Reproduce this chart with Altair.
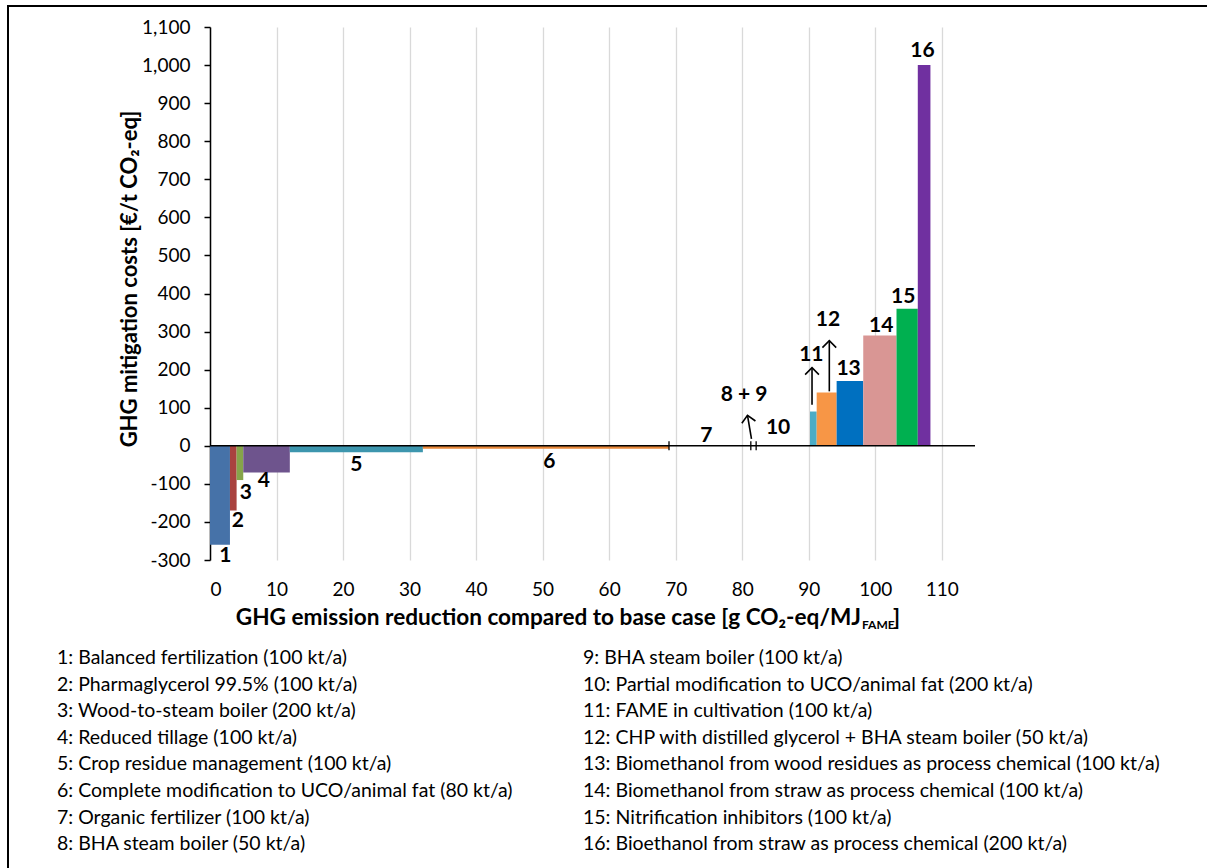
import altair as alt
import numpy as np
import pandas as pd

# --- measures: label, GHG reduction (g CO2-eq/MJ FAME), mitigation cost (EUR/t CO2-eq)
measure = ["1", "2", "3", "4", "5", "6", "7", "8 + 9", "10", "11", "12", "13", "14", "15", "16"]
reduction = [3.0, 1.0, 1.0, 7.0, 20.0, 37.0, 12.3, 0.8, 8.1, 1.0, 3.0, 4.0, 5.0, 3.2, 1.9]
cost = [-260, -170, -90, -70, -17, -8, 0, 0, 0, 90, 140, 170, 290, 360, 1000]
bar_color = ["#4672A8", "#A9423F", "#86A44A", "#6E548D", "#3D96AE", "#E8883A",
             "#000000", "#000000", "#000000", "#4BACC6", "#F79646", "#0070C0",
             "#D99694", "#00B050", "#7030A0"]

# label anchors (data units)
label_x = [2.3, 4.2, 5.4, 8.1, 22.0, 51.0, 74.6, 80.3, 85.4, 90.4, 92.9, 96.0, 100.9, 104.2, 107.1]
label_y = [-290, -197, -123, -92, -50, -42, 26, 134, 47, 239, 331, 202, 315, 391, 1037]

# arrows marking measures whose costs run off the shown range
arrow_x0 = [81.4, 90.5, 93.1]
arrow_x1 = [80.8, 90.5, 93.1]
arrow_y0 = [18, 108, 143]
arrow_y1 = [80, 205, 276]

legend_left = [
    "1: Balanced fertilization (100 kt/a)",
    "2: Pharmaglycerol 99.5% (100 kt/a)",
    "3: Wood-to-steam boiler (200 kt/a)",
    "4: Reduced tillage (100 kt/a)",
    "5: Crop residue management (100 kt/a)",
    "6: Complete modification to UCO/animal fat (80 kt/a)",
    "7: Organic fertilizer (100 kt/a)",
    "8: BHA steam boiler (50 kt/a)",
]
legend_right = [
    "9: BHA steam boiler (100 kt/a)",
    "10: Partial modification to UCO/animal fat (200 kt/a)",
    "11: FAME in cultivation (100 kt/a)",
    "12: CHP with distilled glycerol + BHA steam boiler (50 kt/a)",
    "13: Biomethanol from wood residues as process chemical (100 kt/a)",
    "14: Biomethanol from straw as process chemical (100 kt/a)",
    "15: Nitrification inhibitors (100 kt/a)",
    "16: Bioethanol from straw as process chemical (200 kt/a)",
]

FONT = "Lato"
W, H = 765, 533
X_DOMAIN = [0, 115]
Y_DOMAIN = [-300, 1100]

end = np.cumsum(reduction)
start = end - np.array(reduction)
bars = pd.DataFrame({"measure": measure, "start": start, "end": end,
                     "cost": cost, "color": bar_color})
labels = pd.DataFrame({"measure": measure, "lx": label_x, "ly": label_y})

# pixel scale factors to tilt arrowheads along their shafts
px_x = W / (X_DOMAIN[1] - X_DOMAIN[0])
px_y = H / (Y_DOMAIN[1] - Y_DOMAIN[0])
tilt = [float(np.degrees(np.arctan2((b - a) * px_x, (d - c) * px_y))) % 360
        for a, b, c, d in zip(arrow_x0, arrow_x1, arrow_y0, arrow_y1)]
arrows = pd.DataFrame({"x0": arrow_x0, "x1": arrow_x1, "y0": arrow_y0,
                       "y1": arrow_y1, "tilt": tilt})

# edges of the zero-cost measures on the zero line
edge_x = [start[6], start[7], end[7]]
edges = pd.DataFrame({"x": edge_x, "lo": [-12] * 3, "hi": [12] * 3})

xscale = alt.Scale(domain=X_DOMAIN, nice=False, zero=False)
yscale = alt.Scale(domain=Y_DOMAIN, nice=False, zero=False)

x_axis = alt.Axis(values=list(range(0, 111, 10)), grid=True, gridColor="#D9D9D9",
                  gridWidth=1.3, domain=False, ticks=False, labelPadding=20,
                  labelFont=FONT, labelFontSize=19, labelColor="#000000",
                  labelOverlap=False, title=None)
y_axis = alt.Axis(values=list(range(-300, 1101, 100)), format=",.0f",
                  labelExpr="replace(datum.label, '\u2212', '-')", grid=False,
                  domain=True, domainColor="#000000", domainWidth=1.5,
                  ticks=True, tickColor="#000000", tickSize=6, tickWidth=1.5,
                  labelPadding=14, labelFont=FONT, labelFontSize=19,
                  labelColor="#000000", labelOverlap=False, title=None)


def X(field):
    return alt.X(field, scale=xscale, axis=x_axis)


def Y(field):
    return alt.Y(field, scale=yscale, axis=y_axis)


bar_layer = alt.Chart(bars).mark_rect().encode(
    x=X("start:Q"), x2="end:Q",
    y=Y("cost:Q"), y2=alt.datum(0),
    color=alt.Color("color:N", scale=None),
)

one = pd.DataFrame({"k": [0]})

zero_line = alt.Chart(one).mark_rule(color="#000000", strokeWidth=1.5).encode(
    x=alt.value(0), x2=alt.value(W), y=Y("k:Q")
)

edge_layer = alt.Chart(edges).mark_rule(color="#000000", strokeWidth=1.3).encode(
    x=X("x:Q"), y=Y("lo:Q"), y2="hi:Q"
)

shaft_layer = alt.Chart(arrows).mark_rule(color="#000000", strokeWidth=1.6).encode(
    x=X("x0:Q"), x2="x1:Q", y=Y("y0:Q"), y2="y1:Q",
)
head_layer = alt.Chart(arrows).mark_point(
    shape="M -1 1 L 0 0 L 1 1", filled=False, color="#000000",
    strokeWidth=1.6, size=190, opacity=1
).encode(
    x=X("x1:Q"), y=Y("y1:Q"),
    angle=alt.Angle("tilt:Q", scale=None),
)

label_layer = alt.Chart(labels).mark_text(
    font=FONT, fontSize=21, fontWeight="bold", color="#000000",
    align="center", baseline="middle"
).encode(
    x=X("lx:Q"), y=Y("ly:Q"), text="measure:N"
)

# axis titles
y_title = alt.Chart(one).mark_text(
    text="GHG mitigation costs [€/t CO₂-eq]", font=FONT, fontSize=22,
    fontWeight="bold", angle=270, align="center", baseline="middle", color="#000000"
).encode(x=alt.value(-80), y=alt.value(252))

X_JOIN = 651
x_title_main = alt.Chart(one).mark_text(
    text="GHG emission reduction compared to base case [g CO₂-eq/MJ", font=FONT,
    fontSize=22.6, fontWeight="bold", align="right", baseline="alphabetic", color="#000000"
).encode(x=alt.value(X_JOIN), y=alt.value(598))
x_title_sub = alt.Chart(one).mark_text(
    text="FAME", font=FONT, fontSize=12, fontWeight="bold", align="left",
    baseline="alphabetic", color="#000000"
).encode(x=alt.value(X_JOIN + 1), y=alt.value(602))
x_title_end = alt.Chart(one).mark_text(
    text="]", font=FONT, fontSize=22.6, fontWeight="bold", align="left",
    baseline="alphabetic", color="#000000"
).encode(x=alt.value(X_JOIN + 32), y=alt.value(598))

# measure key, two columns
key_left = alt.Chart(one).mark_text(
    text=legend_left, font=FONT, fontSize=19.5, lineHeight=26.6, align="left",
    baseline="alphabetic", color="#000000"
).encode(x=alt.value(-153), y=alt.value(637))
key_right = alt.Chart(one).mark_text(
    text=legend_right, font=FONT, fontSize=19.5, lineHeight=26.6, align="left",
    baseline="alphabetic", color="#000000"
).encode(x=alt.value(373), y=alt.value(637))

# figure frame (left and top edges fall inside the page)
frame = alt.Chart(one).mark_rect(
    fill="#FFFFFF", fillOpacity=0, stroke="#000000", strokeWidth=2
).encode(x=alt.value(-202), x2=alt.value(1010), y=alt.value(-21), y2=alt.value(900))

chart = alt.layer(
    bar_layer, zero_line, edge_layer, shaft_layer, head_layer, label_layer,
    y_title, x_title_main, x_title_sub, x_title_end, key_left, key_right, frame,
).properties(
    width=W, height=H,
    autosize=alt.AutoSizeParams(type="none"),
    padding={"left": 210, "top": 27, "right": 232, "bottom": 308},
    background="#FFFFFF",
).configure_view(stroke=None)

chart.save("out.html", embed_options={"renderer": "svg", "actions": False})
